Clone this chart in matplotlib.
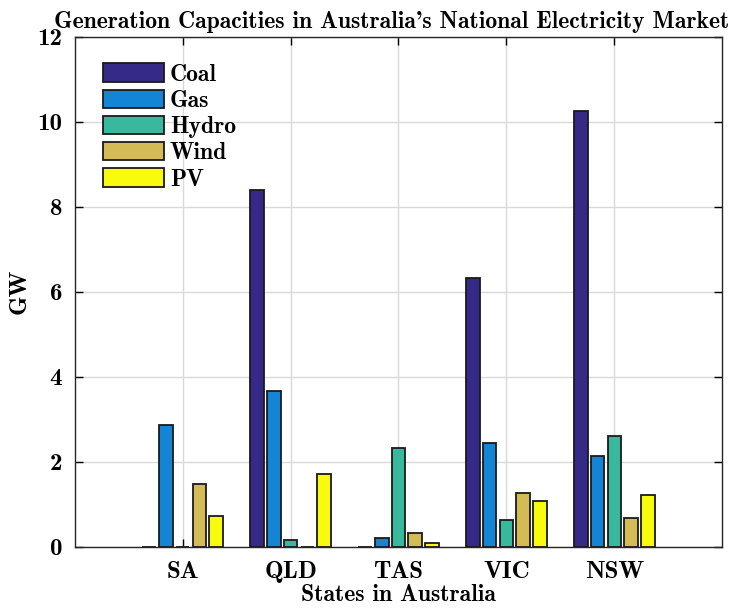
import os
import numpy as np
import matplotlib
matplotlib.use("Agg")
import matplotlib.pyplot as plt
from matplotlib import font_manager

# Computer Modern bold, shipped with matplotlib
cm_path = os.path.join(matplotlib.get_data_path(), "fonts", "ttf", "cmb10.ttf")
font_manager.fontManager.addfont(cm_path)
plt.rcParams['font.family'] = ['cmb10', 'DejaVu Serif']
plt.rcParams['axes.unicode_minus'] = False

# data (GW)
states = ["SA", "QLD", "TAS", "VIC", "NSW"]
sources = ["Coal", "Gas", "Hydro", "Wind", "PV"]
coal = [0.0, 8.40, 0.0, 6.33, 10.25]
gas = [2.86, 3.67, 0.22, 2.45, 2.14]
hydro = [0.0, 0.17, 2.32, 0.64, 2.60]
wind = [1.47, 0.0, 0.32, 1.27, 0.67]
pv = [0.73, 1.72, 0.10, 1.07, 1.22]

colors = ["#352a87", "#1485d4", "#38b99e", "#d4bb55", "#f9fb0e"]

fig = plt.figure(figsize=(7.4, 6.09), dpi=100)
ax = fig.add_axes([0.101, 0.102, 0.875, 0.838])

x = np.arange(1, len(states) + 1)
step = 0.155
width = 0.125
series = [coal, gas, hydro, wind, pv]
for i, (vals, name, c) in enumerate(zip(series, sources, colors)):
    ax.bar(x + (i - 2) * step, vals, width, color=c, edgecolor='#1a1a1a',
           linewidth=1.3, label=name, zorder=3)

ax.set_xlim(0, 6)
ax.set_ylim(0, 12)
ax.set_xticks(x)
ax.set_xticklabels(states)
ax.set_yticks(np.arange(0, 13, 2))
ax.tick_params(direction='in', length=6, width=1, top=True, right=True,
               labelsize=18)
ax.tick_params(axis='x', pad=10)
ax.tick_params(axis='y', pad=9)
ax.grid(True, color='#d9d9d9', linewidth=1, zorder=0)
ax.set_axisbelow(True)
for s in ax.spines.values():
    s.set_linewidth(1)
    s.set_color('#262626')

ax.set_title("Generation Capacities in Australia's National Electricity Market",
             fontsize=17, pad=6, x=0.49)
ax.set_xlabel("States in Australia", fontsize=17, labelpad=1)
ax.set_ylabel("GW", fontsize=18, labelpad=5)

ax.legend(loc='upper left', bbox_to_anchor=(0.021, 0.975), frameon=False,
          fontsize=17, handlelength=2.6, handleheight=0.8, handletextpad=0.25,
          labelspacing=0.17, borderaxespad=0.2)

fig.savefig("out.png", dpi=100)
